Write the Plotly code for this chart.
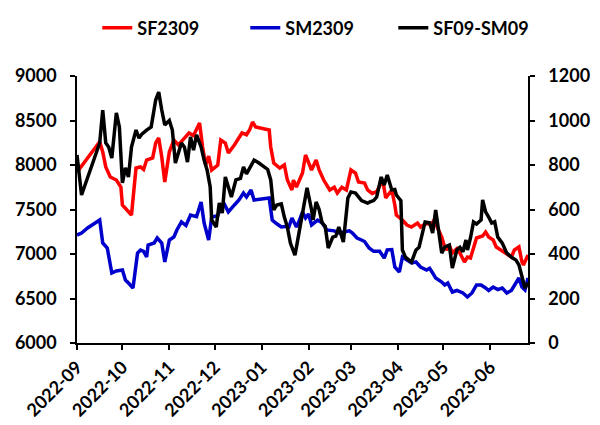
import plotly.graph_objects as go

# ---------------- data ----------------
sf_dates = ["2022-09-01","2022-09-16","2022-09-18","2022-09-20","2022-09-23","2022-09-27","2022-09-30","2022-10-01","2022-10-04","2022-10-07",
"2022-10-10","2022-10-13","2022-10-15","2022-10-17","2022-10-21","2022-10-23","2022-10-25","2022-10-27","2022-10-29","2022-11-01",
"2022-11-04","2022-11-07","2022-11-11","2022-11-14","2022-11-17","2022-11-21","2022-11-23","2022-11-25","2022-11-27","2022-11-29",
"2022-12-03","2022-12-05","2022-12-08","2022-12-10","2022-12-14","2022-12-17","2022-12-19","2022-12-22","2022-12-24","2022-12-26",
"2022-12-28","2023-01-06","2023-01-07","2023-01-09","2023-01-13","2023-01-16","2023-01-18","2023-01-21","2023-01-22","2023-01-24",
"2023-01-28","2023-01-30","2023-02-03","2023-02-06","2023-02-08","2023-02-11","2023-02-15","2023-02-18","2023-02-20","2023-02-23",
"2023-02-26","2023-03-01","2023-03-04","2023-03-06","2023-03-10","2023-03-12","2023-03-15","2023-03-18","2023-03-22","2023-03-24",
"2023-03-28","2023-03-30","2023-03-31","2023-04-04","2023-04-07","2023-04-10","2023-04-14","2023-04-16","2023-04-20","2023-04-23",
"2023-04-25","2023-04-27","2023-04-30","2023-05-02","2023-05-03","2023-05-05","2023-05-07","2023-05-10","2023-05-12","2023-05-15",
"2023-05-17","2023-05-19","2023-05-21","2023-05-23","2023-05-27","2023-05-29","2023-05-31","2023-06-03","2023-06-05","2023-06-08",
"2023-06-12","2023-06-15","2023-06-17","2023-06-20","2023-06-22","2023-06-23","2023-06-26"]
sf2309 = [7920,8262,8146,7978,7865,7831,7753,7550,7494,7438,
7966,7978,7950,8056,8079,8247,8303,8090,7809,8146,
8281,8225,8303,8360,8330,8472,8202,8000,8100,7944,
8000,8281,8247,8135,8225,8303,8360,8340,8393,8483,
8427,8393,8202,8022,7966,8000,7831,7719,7830,7753,
7910,8112,7944,8056,7944,7831,7719,7750,7685,7750,
7719,7944,7910,7809,7798,7719,7680,7700,7831,7629,
7719,7551,7438,7382,7326,7303,7348,7303,7348,7326,
7382,7303,7191,7079,7045,7100,7011,7060,7011,6910,
6966,6955,7079,7180,7202,7247,7191,7157,7079,7045,
6989,6966,7045,7079,6910,6876,6989]

sm_dates = ["2022-09-01","2022-09-04","2022-09-08","2022-09-16","2022-09-18","2022-09-21","2022-09-24","2022-09-27","2022-10-01","2022-10-03",
"2022-10-05","2022-10-08","2022-10-11","2022-10-13","2022-10-15","2022-10-17","2022-10-18","2022-10-22","2022-10-24","2022-10-27",
"2022-10-29","2022-11-01","2022-11-04","2022-11-06","2022-11-09","2022-11-12","2022-11-15","2022-11-19","2022-11-22","2022-11-24",
"2022-11-27","2022-11-29","2022-12-03","2022-12-05","2022-12-07","2022-12-10","2022-12-14","2022-12-17","2022-12-20","2022-12-22",
"2022-12-25","2022-12-27","2023-01-06","2023-01-08","2023-01-11","2023-01-14","2023-01-17","2023-01-19","2023-01-21","2023-01-24",
"2023-01-26","2023-01-28","2023-01-30","2023-02-01","2023-02-03","2023-02-07","2023-02-10","2023-02-13","2023-02-18","2023-02-21",
"2023-02-25","2023-02-28","2023-03-02","2023-03-05","2023-03-08","2023-03-10","2023-03-13","2023-03-16","2023-03-20","2023-03-23",
"2023-03-25","2023-03-28","2023-03-30","2023-04-02","2023-04-04","2023-04-06","2023-04-10","2023-04-13","2023-04-16","2023-04-20",
"2023-04-22","2023-04-24","2023-04-26","2023-04-30","2023-05-02","2023-05-04","2023-05-07","2023-05-10","2023-05-14","2023-05-17",
"2023-05-20","2023-05-23","2023-05-26","2023-05-29","2023-05-31","2023-06-03","2023-06-06","2023-06-09","2023-06-12","2023-06-15",
"2023-06-17","2023-06-20","2023-06-22","2023-06-24","2023-06-26"]
sm2309 = [7213,7236,7292,7382,7124,7067,6787,6810,6820,6708,
6674,6618,7011,7045,7030,6966,7101,7124,7180,7124,
6910,7157,7191,7270,7360,7320,7438,7420,7584,7348,
7157,7416,7430,7528,7573,7472,7551,7607,7685,7640,
7719,7607,7629,7382,7340,7303,7310,7303,7404,7303,
7380,7472,7404,7450,7326,7380,7350,7270,7260,7236,
7250,7260,7236,7180,7157,7140,7067,7030,7030,6955,
7045,7050,6854,6798,6966,6940,6899,6910,6854,6820,
6840,6787,6730,6685,6652,6674,6573,6590,6562,6517,
6562,6652,6652,6618,6590,6629,6600,6618,6562,6590,
6652,6730,6629,6596,6730]

spread_dates = ["2022-09-01","2022-09-04","2022-09-16","2022-09-18","2022-09-20","2022-09-22","2022-09-24","2022-09-27","2022-09-29","2022-09-30",
"2022-10-01","2022-10-03","2022-10-05","2022-10-07","2022-10-10","2022-10-12","2022-10-14","2022-10-17","2022-10-20","2022-10-23",
"2022-10-25","2022-10-27","2022-10-29","2022-11-01","2022-11-03","2022-11-05","2022-11-09","2022-11-11","2022-11-13","2022-11-15",
"2022-11-17","2022-11-19","2022-11-22","2022-11-24","2022-11-26","2022-11-28","2022-11-29","2022-12-02","2022-12-04","2022-12-06",
"2022-12-08","2022-12-12","2022-12-15","2022-12-18","2022-12-20","2022-12-22","2022-12-25","2022-12-27","2022-12-30","2023-01-03",
"2023-01-05","2023-01-07","2023-01-09","2023-01-11","2023-01-14","2023-01-16","2023-01-18","2023-01-20","2023-01-21","2023-01-23",
"2023-01-24","2023-01-27","2023-01-29","2023-01-31","2023-02-03","2023-02-04","2023-02-06","2023-02-08","2023-02-10","2023-02-12",
"2023-02-14","2023-02-17","2023-02-19","2023-02-21","2023-02-24","2023-02-27","2023-03-01","2023-03-04","2023-03-08","2023-03-10",
"2023-03-12","2023-03-14","2023-03-16","2023-03-18","2023-03-21","2023-03-23","2023-03-25","2023-03-28","2023-03-30","2023-03-31",
"2023-04-03","2023-04-04","2023-04-06","2023-04-10","2023-04-13","2023-04-15","2023-04-17","2023-04-19","2023-04-22","2023-04-24",
"2023-04-26","2023-04-28","2023-04-30","2023-05-02","2023-05-05","2023-05-07","2023-05-10","2023-05-12","2023-05-14","2023-05-16",
"2023-05-17","2023-05-19","2023-05-21","2023-05-23","2023-05-26","2023-05-27","2023-05-29","2023-05-31","2023-06-02","2023-06-04",
"2023-06-06","2023-06-09","2023-06-12","2023-06-15","2023-06-18","2023-06-20","2023-06-22","2023-06-24","2023-06-26"]
sf09_sm09 = [845,665,899,1047,899,880,831,1034,971,809,
719,787,746,881,957,921,940,957,971,1092,
1128,1047,980,1000,957,809,899,880,813,926,
867,935,881,822,777,701,553,521,629,584,
746,656,733,740,791,760,800,822,810,787,
780,733,598,620,625,566,521,449,431,395,
431,539,629,697,598,553,634,600,539,525,
427,476,480,521,454,652,679,674,640,634,
629,635,640,656,746,710,755,688,690,665,
640,418,386,364,418,430,494,544,540,494,
598,508,404,431,440,337,418,430,410,463,
418,472,544,535,553,643,589,566,539,545,
476,449,404,386,373,351,297,247,270]

series_names = ["SF2309", "SM2309", "SF09-SM09"]
series_colors = ["#FF0000", "#0000CC", "#000000"]

left_ticks = [6000, 6500, 7000, 7500, 8000, 8500, 9000]
right_ticks = [0, 200, 400, 600, 800, 1000, 1200]
x_start, x_end = "2022-09-01", "2023-06-26"

FONT = "Lato"

fig = go.Figure()
fig.add_trace(go.Scatter(x=sf_dates, y=sf2309, name=series_names[0], mode="lines",
                         line=dict(color=series_colors[0], width=3.5)))
fig.add_trace(go.Scatter(x=sm_dates, y=sm2309, name=series_names[1], mode="lines",
                         line=dict(color=series_colors[1], width=3.5)))
fig.add_trace(go.Scatter(x=spread_dates, y=sf09_sm09, name=series_names[2], mode="lines",
                         line=dict(color=series_colors[2], width=3.5), yaxis="y2"))

axis_font = dict(family=FONT, size=18, color="#000000", weight="bold")

# the page body adds an 8px offset, so the figure is sized to the remaining window
fig.update_layout(
    width=592, height=417,
    margin=dict(l=69, r=72, t=68, b=82, autoexpand=False),
    paper_bgcolor="white", plot_bgcolor="white",
    font=dict(family=FONT, size=18, color="#000000", weight="bold"),
    showlegend=True,
    legend=dict(orientation="h", x=0.045, xanchor="left", y=1.18, yanchor="middle",
                font=dict(family=FONT, size=18, color="#000000", weight="bold"),
                entrywidth=103, entrywidthmode="pixels", bgcolor="rgba(0,0,0,0)"),
    xaxis=dict(type="date", range=[x_start, x_end], dtick="M1", tick0="2022-09-01",
               tickformat="%Y-%m", tickangle=-45, showgrid=False, zeroline=False,
               showline=True, linecolor="#000000", linewidth=1.5,
               ticks="outside", ticklen=5, tickwidth=1.5, tickcolor="#000000",
               tickfont=axis_font),
    yaxis=dict(range=[6000, 9000], tickvals=left_ticks, showgrid=False, zeroline=False,
               showline=True, linecolor="#000000", linewidth=1.5,
               ticks="outside", ticklen=5, tickwidth=1.5, tickcolor="#000000",
               tickfont=axis_font, ticklabelstandoff=10),
    yaxis2=dict(range=[0, 1200], tickvals=right_ticks, overlaying="y", side="right",
                showgrid=False, zeroline=False,
                showline=True, linecolor="#000000", linewidth=1.5,
                ticks="outside", ticklen=5, tickwidth=1.5, tickcolor="#000000",
                tickfont=axis_font, ticklabelstandoff=10),
)

fig.write_html("out.html")
